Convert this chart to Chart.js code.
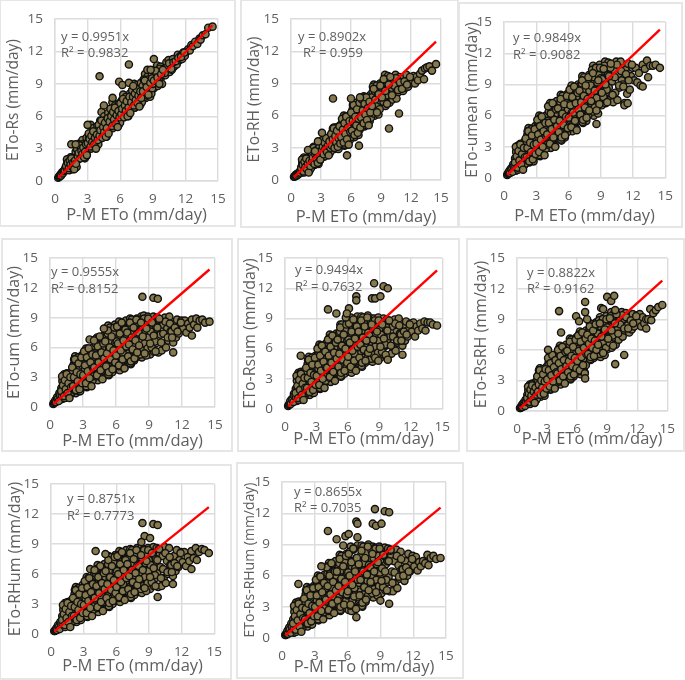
<!DOCTYPE html>
<html>
<head>
<meta charset="utf-8">
<title>ETo scatter panels</title>
<script src="https://cdn.jsdelivr.net/npm/chart.js@4/dist/chart.umd.min.js"></script>
<style>
	body { margin: 0; background: #fff; }
	#page { position: relative; width: 685px; height: 680px; overflow: hidden; }
	.frame { position: absolute; box-sizing: border-box; border: 2px solid #e6e6e6; }
	canvas { position: absolute; left: 0; top: 0; }
</style>
</head>
<body>
<div id="page"></div>
<script>
// P-M ETo, same days in every panel
const pmEto = [
	0.3,0.35,0.4,0.45,0.5,0.6,0.65,0.75,0.85,0.95,
	1.03,1.1,1.16,1.22,1.28,1.35,1.41,1.47,1.53,1.59,1.66,1.72,1.78,1.84,1.9,1.97,
	2.03,2.1,2.16,2.22,2.28,2.35,2.41,2.47,2.53,2.59,2.66,2.72,2.78,2.84,2.9,2.97,
	3.03,3.1,3.16,3.22,3.28,3.35,3.41,3.47,3.53,3.59,3.66,3.72,3.78,3.84,3.9,3.97,
	4.03,4.1,4.16,4.22,4.28,4.35,4.41,4.47,4.53,4.59,4.66,4.72,4.78,4.84,4.9,4.97,
	5.03,5.1,5.16,5.22,5.28,5.35,5.41,5.47,5.53,5.59,5.66,5.72,5.78,5.84,5.9,5.97,
	6.03,6.1,6.16,6.22,6.28,6.35,6.41,6.47,6.53,6.59,6.66,6.72,6.78,6.84,6.9,6.97,
	7.03,7.1,7.16,7.22,7.28,7.35,7.41,7.47,7.53,7.59,7.66,7.72,7.78,7.84,7.9,7.97,
	8.03,8.1,8.16,8.22,8.28,8.35,8.41,8.47,8.53,8.59,8.66,8.72,8.78,8.84,8.9,8.97,
	9.05,9.1,9.2,9.3,9.4,9.45,9.5,9.6,9.7,9.75,9.85,9.95,
	10.05,10.15,10.25,10.35,10.45,10.55,10.65,10.75,10.85,10.95,
	11.05,11.2,11.3,11.45,11.55,11.7,11.8,11.95,
	12.1,12.25,12.4,12.55,12.7,12.9,
	13.1,13.3,13.4,13.6,13.85,
	14.1,14.5
]
const pmEto2 = [
	0.55,0.7,0.8,0.9,
	1.06,1.13,1.19,1.25,1.31,1.38,1.44,1.5,1.56,1.62,1.69,1.75,1.81,1.87,1.94,1.99,
	2.06,2.13,2.19,2.25,2.31,2.38,2.44,2.5,2.56,2.62,2.69,2.75,2.81,2.87,2.94,2.99,
	3.06,3.13,3.19,3.25,3.31,3.38,3.44,3.5,3.56,3.62,3.69,3.75,3.81,3.87,3.94,3.99,
	4.06,4.13,4.19,4.25,4.31,4.38,4.44,4.5,4.56,4.62,4.69,4.75,4.81,4.87,4.94,4.99,
	5.06,5.13,5.19,5.25,5.31,5.38,5.44,5.5,5.56,5.62,5.69,5.75,5.81,5.87,5.94,5.99,
	6.06,6.13,6.19,6.25,6.31,6.38,6.44,6.5,6.56,6.62,6.69,6.75,6.81,6.87,6.94,6.99,
	7.06,7.13,7.19,7.25,7.31,7.38,7.44,7.5,7.56,7.62,7.69,7.75,7.81,7.87,7.94,7.99,
	8.06,8.13,8.19,8.25,8.31,8.38,8.44,8.5,8.56,8.62,8.69,8.75,8.81,8.87,8.94,8.99,
	9.15,9.25,9.35,9.55,9.65,9.9,
	10.1,10.3,10.5,10.7,10.9,
	11.1,11.35,11.6,11.9
]
const pmEto3 = [
	1.02,1.1,1.18,1.27,1.35,1.43,1.52,1.6,1.68,1.77,1.85,1.93,
	2.02,2.1,2.18,2.27,2.35,2.43,2.52,2.6,2.68,2.77,2.85,2.93,
	3.02,3.1,3.18,3.27,3.35,3.43,3.52,3.6,3.68,3.77,3.85,3.93,
	4.02,4.1,4.18,4.27,4.35,4.43,4.52,4.6,4.68,4.77,4.85,4.93,
	5.02,5.1,5.18,5.27,5.35,5.43,5.52,5.6,5.68,5.77,5.85,5.93,
	6.02,6.1,6.18,6.27,6.35,6.43,6.52,6.6,6.68,6.77,6.85,6.93,
	7.02,7.1,7.18,7.27,7.35,7.43,7.52,7.6,7.68,7.77,7.85,7.93,
	8.1,8.27,8.43,8.6,8.77,8.93,
	9.1,9.27,9.43,9.6,9.77,9.93
]

const etoRs = [
	0.3,0.4,0.4,0.5,0.6,0.6,0.8,0.8,1.0,1.2,
	1.0,1.2,1.5,1.1,1.9,1.2,1.4,1.3,2.2,1.5,1.4,1.9,1.6,1.8,2.7,1.9,
	2.1,2.0,2.9,2.2,3.5,2.2,2.6,2.4,3.8,2.6,2.4,3.3,2.6,3.0,4.0,2.9,
	3.6,3.0,4.4,3.3,5.2,3.1,4.1,3.4,4.9,3.9,3.3,4.5,3.7,4.3,5.1,4.0,
	4.7,3.9,5.6,4.3,6.4,4.0,5.2,4.3,6.0,4.9,4.3,5.7,4.8,5.3,6.3,5.0,
	5.6,4.9,6.7,5.3,7.3,5.0,6.2,5.3,7.0,5.8,5.2,6.6,5.7,6.3,7.2,5.9,
	6.5,5.9,7.5,6.3,8.0,5.9,7.1,6.3,7.8,6.7,6.2,7.4,6.6,7.2,8.1,6.9,
	7.6,6.8,8.5,7.2,9.0,6.8,8.1,7.2,8.9,7.7,7.1,8.4,7.5,8.1,9.1,7.8,
	8.5,7.7,9.4,8.1,9.9,7.7,9.0,8.1,9.7,8.6,8.0,9.3,8.4,8.9,10.0,8.7,
	9.5,8.6,10.3,9.0,10.7,8.8,9.8,9.2,10.6,9.6,9.0,10.2,
	10.4,9.8,11.0,10.1,11.2,10.1,10.7,10.3,11.3,10.6,
	11.0,10.8,11.7,11.2,11.6,11.3,11.9,11.6,
	12.0,12.2,12.1,12.6,12.5,12.9,
	12.7,13.2,13.1,13.5,13.6,
	14.2,14.3
]
const etoRs2 = [
	0.5,0.7,0.9,1.0,
	1.2,1.8,1.5,2.0,1.0,1.7,2.2,1.4,1.9,1.1,1.6,2.1,1.5,1.2,1.8,1.3,
	2.9,2.4,3.4,2.1,2.6,3.2,2.2,2.8,3.4,2.5,3.0,2.1,3.2,2.3,2.7,3.1,
	3.2,4.0,3.6,4.2,3.0,3.8,4.4,3.5,4.0,3.2,3.7,4.2,3.6,3.3,4.0,3.4,
	5.0,4.4,5.5,4.1,4.6,5.2,4.3,4.8,5.5,4.6,5.1,4.1,5.3,4.4,4.8,5.2,
	5.1,6.0,5.6,6.3,4.9,5.8,6.5,5.4,6.1,5.1,5.7,6.3,5.6,5.2,6.0,5.4,
	6.9,6.3,7.4,6.0,6.5,7.1,6.2,6.7,7.4,6.5,7.0,6.0,7.2,6.3,6.7,7.1,
	7.1,8.0,7.6,8.2,6.8,7.7,8.5,7.4,8.0,7.0,7.6,8.3,7.5,7.1,8.0,7.3,
	8.8,8.2,9.4,7.8,8.4,9.1,8.0,8.6,9.4,8.3,8.9,7.8,9.2,8.1,8.6,9.0,
	9.4,9.8,10.0,9.5,10.4,10.1,
	10.0,10.5,10.9,10.4,11.0,
	11.1,11.4,11.5,11.9
]
const etoRs3 = [
	1.4,2.0,1.7,1.2,1.9,1.5,2.1,1.3,1.7,1.1,1.9,1.6,
	3.0,2.3,2.6,3.3,2.1,2.8,2.5,3.1,2.2,2.7,3.4,2.4,
	3.5,4.4,3.9,3.2,4.2,3.6,4.6,3.4,4.0,3.0,4.3,3.8,
	5.2,4.2,4.7,5.6,4.0,5.0,4.5,5.4,4.1,4.9,5.8,4.4,
	5.5,6.7,6.0,5.1,6.4,5.7,6.8,5.3,6.1,5.0,6.5,5.9,
	7.2,6.2,6.7,7.6,5.9,7.0,6.5,7.4,6.0,6.8,7.8,6.3,
	7.3,8.4,7.8,7.0,8.1,7.5,8.5,7.2,7.9,6.9,8.3,7.7,
	8.3,9.3,8.7,8.0,9.1,9.5,
	9.3,10.2,9.6,9.0,9.9,10.3
]
const etoRH = [
	0.3,0.3,0.4,0.4,0.5,0.5,0.6,0.6,0.7,0.9,
	1.2,0.7,1.7,1.0,2.1,0.8,1.5,0.9,1.9,1.2,0.9,1.7,1.2,1.5,2.2,1.4,
	2.2,1.5,2.7,1.8,3.1,1.4,2.5,1.8,3.0,2.2,1.7,2.8,2.1,2.6,3.1,2.3,
	3.0,2.3,3.5,2.7,3.9,2.2,3.3,2.6,3.8,3.0,2.4,3.6,2.9,3.4,4.0,3.1,
	3.8,3.0,4.5,3.4,4.9,2.9,4.2,3.3,4.9,3.8,3.2,4.6,3.6,4.4,5.1,4.0,
	4.6,3.4,5.3,4.0,6.0,3.2,5.0,3.8,5.7,4.4,3.5,5.3,4.2,5.0,6.1,4.8,
	5.6,4.3,6.6,5.0,7.2,4.0,6.2,4.7,7.0,5.4,4.6,6.5,5.2,6.2,7.4,5.6,
	6.4,5.2,7.2,5.9,7.8,5.0,6.9,5.6,7.6,6.2,5.4,7.3,5.9,6.8,7.9,6.3,
	7.4,6.2,8.2,6.9,8.9,6.0,7.8,6.6,8.6,7.2,6.4,8.2,6.8,7.7,9.0,7.3,
	8.3,7.0,9.1,7.7,9.8,6.9,8.7,7.4,9.7,8.0,7.2,9.0,
	8.6,7.5,9.3,8.0,9.8,7.6,9.0,8.2,9.6,8.4,
	9.0,8.3,9.6,8.6,9.8,8.7,9.3,9.0,
	9.2,9.7,9.0,9.6,9.3,9.9,
	10.2,9.4,10.4,10.5,10.6,
	10.2,10.8
]
const etoRH2 = [
	0.4,0.5,0.6,0.7,
	0.9,1.6,1.3,1.8,0.7,1.4,2.0,1.1,1.6,0.9,1.4,1.8,1.2,0.9,1.6,1.1,
	2.4,1.8,3.0,1.5,2.1,2.7,1.7,2.3,3.0,2.0,2.5,1.5,2.8,1.8,2.2,2.7,
	2.5,3.4,3.0,3.6,2.2,3.1,3.9,2.8,3.4,2.4,3.0,3.7,2.9,2.5,3.4,2.7,
	4.1,3.4,4.8,3.0,3.7,4.5,3.2,3.9,4.9,3.6,4.3,2.9,4.6,3.3,3.9,4.4,
	3.6,5.2,4.5,5.6,3.3,4.7,5.9,4.1,5.2,3.5,4.6,5.7,4.4,3.7,5.1,4.0,
	6.0,4.8,7.0,4.3,5.3,6.6,4.5,5.7,7.2,5.2,6.2,4.2,6.7,4.7,5.6,6.4,
	5.4,7.0,6.3,7.4,5.1,6.5,7.7,5.9,7.0,5.3,6.4,7.5,6.2,5.5,6.9,5.8,
	7.7,6.7,8.7,6.2,7.2,8.3,6.5,7.5,8.8,7.0,7.9,6.1,8.4,6.6,7.4,8.1,
	8.5,7.3,9.4,7.9,8.9,9.3,
	7.9,8.8,9.5,8.4,9.1,
	8.5,9.2,8.9,9.6
]
const etoRH3 = [
	1.1,1.9,1.4,0.8,1.7,1.2,2.0,1.0,1.5,0.7,1.8,1.3,
	2.6,1.7,2.1,3.0,1.5,2.4,2.0,2.8,1.6,2.3,3.1,1.9,
	2.7,3.7,3.1,2.4,3.5,2.9,3.9,2.6,3.2,2.3,3.6,3.0,
	4.3,3.2,3.8,4.8,3.0,4.1,3.5,4.6,3.1,3.9,5.0,3.4,
	4.0,5.7,4.7,3.5,5.3,4.3,5.9,3.8,4.9,3.3,5.5,4.5,
	6.3,4.6,5.5,7.0,4.2,5.9,5.1,6.6,4.4,5.7,7.2,4.9,
	5.8,7.5,6.5,5.3,7.1,6.1,7.7,5.6,6.7,5.1,7.3,6.3,
	6.9,8.5,7.5,6.3,8.0,8.8,
	7.7,9.4,8.3,7.1,8.9,9.6
]
const etoUmean = [
	0.3,0.4,0.5,0.5,0.7,0.5,0.9,0.7,1.3,0.9,
	1.9,0.7,2.8,1.2,3.1,0.9,2.4,1.2,3.3,1.7,1.0,2.9,1.4,2.5,3.5,1.9,
	3.1,1.5,4.1,2.2,4.8,1.5,3.6,2.0,4.7,2.7,1.7,4.2,2.4,3.7,5.0,3.0,
	4.0,2.3,5.1,3.0,6.0,2.1,4.7,2.8,5.7,3.6,2.5,5.2,3.2,4.6,6.0,3.8,
	5.0,3.1,6.4,3.9,7.2,2.9,5.8,3.6,7.0,4.6,3.2,6.3,4.1,5.6,7.4,4.7,
	5.8,3.9,7.1,4.8,8.0,3.6,6.5,4.5,7.7,5.4,3.9,7.0,4.8,6.4,8.1,5.3,
	6.7,5.0,8.0,5.8,8.9,4.5,7.4,5.3,8.6,6.2,4.8,7.9,5.6,7.2,9.0,6.1,
	7.6,5.6,9.0,6.6,9.8,5.3,8.3,6.2,9.5,7.1,5.5,8.8,6.4,8.1,9.9,7.0,
	8.5,6.3,9.9,7.4,10.8,6.0,9.2,7.0,10.6,8.0,6.3,9.7,7.3,8.9,10.9,7.8,
	9.0,7.0,10.3,7.9,11.2,7.2,9.7,8.3,11.1,8.7,7.5,10.5,
	9.3,7.3,10.4,8.2,11.2,7.5,10.0,8.7,11.2,9.4,
	9.0,7.2,10.4,8.1,11.0,8.5,9.8,10.6,
	9.4,10.6,9.2,10.1,8.9,10.9,
	10.5,11.3,9.7,10.8,10.8,
	10.9,10.6
]
const etoUmean2 = [
	0.5,0.8,0.6,1.1,
	1.1,2.5,1.9,2.9,0.8,2.1,3.2,1.6,2.6,1.0,2.0,3.0,1.8,1.2,2.5,1.4,
	3.4,2.3,4.5,1.7,2.8,4.1,1.9,3.2,4.7,2.6,3.6,1.6,4.2,2.1,3.0,3.9,
	2.7,4.8,3.9,5.4,2.2,4.2,5.9,3.4,4.9,2.6,4.0,5.5,3.7,2.8,4.8,3.2,
	5.5,4.0,6.9,3.3,4.7,6.3,3.6,5.2,7.1,4.4,5.8,3.1,6.5,3.9,5.0,6.2,
	4.3,6.7,5.6,7.3,3.7,6.0,7.9,5.1,6.8,4.1,5.8,7.5,5.4,4.4,6.6,4.8,
	7.1,5.6,8.5,4.9,6.3,7.9,5.2,6.8,8.7,6.0,7.4,4.7,8.1,5.5,6.6,7.8,
	6.0,8.5,7.3,9.1,5.4,7.8,9.7,6.8,8.5,5.8,7.6,9.3,7.2,6.1,8.4,6.6,
	8.9,7.2,10.4,6.4,7.9,9.7,6.8,8.5,10.6,7.7,9.2,6.2,9.9,7.1,8.3,9.6,
	9.5,7.8,10.8,8.5,9.9,10.6,
	8.0,9.7,10.9,8.9,10.3,
	8.8,10.0,9.4,10.9
]
const etoUmean3 = [
	1.5,3.0,2.1,1.0,2.6,1.7,3.2,1.3,2.3,0.8,2.9,2.0,
	3.8,2.0,2.9,4.5,1.6,3.4,2.5,4.1,1.8,3.2,4.7,2.3,
	3.3,5.6,4.2,2.5,5.0,3.7,5.9,3.0,4.5,2.2,5.3,4.0,
	4.2,6.9,5.3,3.3,6.2,4.7,7.2,3.9,5.6,3.0,6.6,5.0,
	6.7,4.4,5.5,7.6,3.9,6.2,5.1,7.1,4.1,5.9,7.9,4.8,
	5.8,8.5,7.0,4.9,7.8,6.3,8.8,5.5,7.2,4.6,8.2,6.6,
	8.4,6.1,7.3,9.4,5.6,7.9,6.8,8.9,5.8,7.6,9.7,6.5,
	7.4,10.1,8.4,6.5,9.4,10.6,
	8.2,10.5,9.0,7.3,9.8,11.0
]
const etoUm = [
	0.3,0.4,0.5,0.5,0.7,0.6,1.0,0.7,1.4,1.0,
	1.9,0.8,2.8,1.2,3.3,0.9,2.3,1.2,3.4,1.6,1.0,2.9,1.4,2.5,3.5,1.9,
	3.2,1.5,4.3,2.2,5.1,1.4,3.8,2.0,4.9,2.7,1.6,4.2,2.4,3.7,5.2,3.0,
	4.0,2.1,5.2,2.9,5.9,2.0,4.6,2.6,5.6,3.4,2.3,5.0,3.1,4.4,6.0,3.7,
	4.9,2.8,6.4,3.7,7.0,2.7,5.7,3.4,6.9,4.4,3.0,6.2,3.9,5.4,7.2,4.6,
	5.6,3.4,7.2,4.4,8.2,3.2,6.5,4.1,7.8,5.1,3.5,6.9,4.6,6.2,8.3,5.2,
	6.1,3.8,7.6,4.8,8.6,3.7,7.0,4.6,8.3,5.6,4.1,7.4,5.0,6.7,8.7,5.5,
	6.6,4.5,8.2,5.5,8.9,4.3,7.4,5.1,8.6,6.1,4.7,7.8,5.6,7.1,8.9,6.2,
	7.0,5.1,8.3,6.0,9.1,5.0,7.7,5.7,9.2,6.5,5.3,8.1,6.2,7.4,9.1,6.7,
	7.2,5.3,8.3,6.1,9.1,5.6,7.8,6.4,9.0,6.9,5.5,8.5,
	7.3,5.7,8.3,6.3,9.0,6.0,7.9,6.7,9.1,7.6,
	7.6,6.5,8.4,7.0,8.8,7.4,8.1,8.7,
	7.9,8.7,7.5,8.4,8.0,8.8,
	8.3,8.9,8.0,8.7,8.8,
	8.5,8.6
]
const etoUm2 = [
	0.5,0.8,0.6,1.2,
	1.2,2.6,2.0,3.0,0.9,2.2,3.3,1.7,2.7,1.1,2.1,3.1,1.9,1.3,2.6,1.5,
	3.6,2.3,4.8,1.7,2.9,4.3,2.0,3.3,5.0,2.7,3.8,1.6,4.4,2.2,3.2,4.1,
	2.6,4.8,3.8,5.4,2.1,4.2,5.9,3.3,4.9,2.5,4.0,5.5,3.7,2.7,4.7,3.1,
	5.4,3.8,6.8,3.1,4.5,6.2,3.4,5.0,7.0,4.3,5.7,2.9,6.4,3.7,4.9,6.0,
	3.9,6.6,5.4,7.4,3.3,5.9,8.0,4.8,6.7,3.8,5.7,7.5,5.3,4.1,6.5,4.6,
	6.6,4.9,8.2,4.1,5.7,7.5,4.5,6.2,8.4,5.4,6.9,3.9,7.7,4.8,6.1,7.3,
	5.0,7.5,6.4,8.2,4.4,6.8,8.8,5.8,7.6,4.9,6.6,8.4,6.2,5.1,7.4,5.6,
	7.5,6.0,8.8,5.3,6.6,8.2,5.7,7.1,8.9,6.4,7.7,5.2,8.4,5.9,7.0,8.0,
	7.6,6.0,8.6,6.6,8.1,8.8,
	6.5,7.4,8.6,7.0,8.4,
	7.0,8.0,7.6,8.5
]
const etoUm3 = [
	1.6,3.1,2.2,1.1,2.7,1.8,3.3,1.4,2.4,0.9,3.0,2.0,
	4.0,2.1,3.0,4.8,1.7,3.5,2.6,4.4,1.8,3.3,5.0,2.4,
	3.2,5.6,4.2,2.4,5.0,3.6,5.9,2.9,4.5,2.1,5.3,3.9,
	4.0,6.8,5.2,3.2,6.1,4.5,7.1,3.7,5.5,2.8,6.4,4.9,
	6.6,4.1,5.4,7.7,3.5,6.0,4.8,7.1,3.8,5.7,8.0,4.5,
	5.2,8.1,6.4,4.2,7.4,5.7,8.5,4.8,6.7,3.9,7.8,6.1,
	7.5,5.1,6.3,8.5,4.6,7.0,5.8,8.0,4.9,6.7,8.8,5.5,
	6.2,8.5,7.1,5.4,7.9,8.9,
	6.4,8.5,7.2,5.6,8.0,8.9
]
const etoRsum = [
	0.3,0.4,0.5,0.5,0.8,0.6,1.0,0.7,1.5,1.0,
	2.0,0.8,3.0,1.3,3.6,0.9,2.5,1.2,3.7,1.7,1.0,3.1,1.5,2.7,3.8,2.0,
	3.3,1.5,4.5,2.2,5.2,1.4,3.9,2.0,5.1,2.8,1.6,4.4,2.4,3.8,5.3,3.1,
	4.2,2.1,5.5,3.0,6.4,2.0,4.9,2.7,6.0,3.6,2.3,5.3,3.2,4.7,6.5,3.9,
	5.0,2.8,6.5,3.8,7.4,2.7,5.8,3.4,7.2,4.5,3.0,6.3,4.0,5.6,7.5,4.7,
	5.8,3.3,7.5,4.5,8.4,3.2,6.7,4.2,8.2,5.3,3.5,7.2,4.7,6.4,8.6,5.4,
	6.3,3.7,8.0,5.0,9.1,3.6,7.2,4.7,8.8,5.8,4.0,7.8,5.1,6.9,9.2,5.6,
	6.7,4.4,8.5,5.5,9.2,4.2,7.5,5.1,9.1,6.2,4.6,8.1,5.7,7.2,9.3,6.3,
	6.9,4.8,8.2,5.7,9.0,4.7,7.6,5.4,9.0,6.4,5.0,8.1,6.0,7.3,9.1,6.6,
	7.1,5.1,8.3,6.0,9.0,5.4,7.7,6.3,8.9,6.8,5.3,8.4,
	7.2,5.5,8.2,6.2,8.9,5.8,7.7,6.6,9.0,7.5,
	7.4,6.3,8.2,6.8,8.7,7.2,7.9,8.5,
	7.7,8.6,7.2,8.2,7.8,8.5,
	8.0,8.7,7.8,8.6,8.6,
	8.4,8.3
]
const etoRsum2 = [
	0.5,0.9,0.7,1.3,
	1.2,2.8,2.1,3.2,0.9,2.3,3.5,1.7,2.8,1.1,2.2,3.3,2.0,1.3,2.7,1.6,
	3.7,2.3,4.9,1.7,3.0,4.4,2.0,3.4,5.1,2.7,3.9,1.6,4.5,2.2,3.2,4.2,
	2.7,5.1,4.0,5.7,2.1,4.4,6.3,3.5,5.2,2.5,4.2,5.9,3.8,2.8,5.0,3.2,
	5.5,3.9,7.0,3.1,4.6,6.4,3.5,5.1,7.2,4.3,5.8,2.9,6.6,3.7,5.0,6.2,
	4.0,6.9,5.6,7.7,3.3,6.1,8.4,5.0,7.0,3.8,5.9,7.9,5.4,4.2,6.8,4.7,
	6.9,5.0,8.7,4.0,5.8,7.9,4.5,6.5,8.9,5.5,7.2,3.9,8.1,4.8,6.2,7.7,
	5.0,7.7,6.5,8.5,4.3,7.0,9.1,5.9,7.8,4.8,6.7,8.6,6.3,5.1,7.6,5.6,
	7.3,5.8,8.7,5.0,6.4,8.1,5.4,6.9,8.8,6.2,7.5,4.9,8.2,5.6,6.8,7.9,
	7.4,5.7,8.6,6.4,8.1,8.8,
	6.3,7.2,8.5,6.8,8.3,
	6.8,7.7,7.4,8.4
]
const etoRsum3 = [
	1.6,3.3,2.3,1.1,2.9,1.9,3.5,1.4,2.5,0.9,3.1,2.1,
	4.1,2.1,3.1,4.9,1.7,3.6,2.7,4.4,1.9,3.4,5.1,2.4,
	3.3,6.0,4.4,2.4,5.3,3.8,6.3,3.0,4.7,2.1,5.7,4.1,
	4.1,6.9,5.3,3.2,6.2,4.6,7.3,3.7,5.6,2.8,6.6,5.0,
	6.9,4.2,5.5,8.1,3.6,6.3,4.9,7.4,3.8,6.0,8.4,4.6,
	5.2,8.5,6.6,4.2,7.7,5.8,8.9,4.8,7.0,3.8,8.2,6.2,
	7.7,5.1,6.4,8.8,4.6,7.1,5.9,8.2,4.8,6.8,9.1,5.6,
	6.0,8.4,6.9,5.1,7.7,8.8,
	6.2,8.4,7.0,5.4,7.8,8.8
]
const etoRsRH = [
	0.3,0.3,0.4,0.4,0.6,0.5,0.8,0.6,1.1,0.8,
	1.6,0.7,2.2,1.0,2.6,0.8,2.0,1.1,2.7,1.4,0.9,2.3,1.2,1.9,2.9,1.5,
	2.8,1.5,3.6,2.0,4.2,1.4,3.2,1.9,4.1,2.5,1.6,3.6,2.2,3.1,4.3,2.6,
	3.7,2.2,4.8,2.8,5.5,2.1,4.2,2.5,5.3,3.3,2.3,4.7,3.0,4.1,5.6,3.5,
	4.4,2.7,5.6,3.4,6.4,2.6,5.1,3.1,6.2,3.9,2.9,5.4,3.6,4.9,6.5,4.2,
	5.0,3.2,6.3,4.0,7.1,3.1,5.7,3.7,6.9,4.6,3.4,6.1,4.2,5.5,7.2,4.8,
	5.7,3.7,7.0,4.6,7.8,3.6,6.4,4.3,7.7,5.2,4.0,6.8,4.8,6.2,7.9,5.4,
	6.7,5.1,7.8,5.7,8.6,5.0,7.2,5.4,8.4,6.3,5.2,7.7,5.9,7.0,8.7,6.4,
	7.2,5.4,8.3,6.2,9.2,5.3,7.8,5.9,9.0,6.8,5.6,8.2,6.4,7.6,9.3,6.9,
	8.0,6.1,8.9,6.9,9.7,6.2,8.5,7.2,9.6,7.7,6.5,9.0,
	8.2,7.0,9.0,7.5,9.7,7.3,8.7,7.9,9.6,8.4,
	8.4,7.7,9.1,8.0,9.5,8.3,8.8,9.4,
	8.7,9.5,8.3,9.2,8.6,9.0,
	9.0,10.0,8.9,9.6,9.9,
	10.2,10.4
]
const etoRsRH2 = [
	0.4,0.6,0.5,0.9,
	1.0,2.0,1.6,2.3,0.7,1.7,2.6,1.3,2.1,0.9,1.7,2.4,1.5,1.0,2.0,1.2,
	3.1,2.1,4.0,1.6,2.5,3.6,1.8,2.9,4.1,2.4,3.2,1.5,3.7,2.0,2.7,3.5,
	2.6,4.5,3.7,5.1,2.2,4.0,5.5,3.3,4.6,2.5,3.9,5.2,3.6,2.7,4.5,3.1,
	4.9,3.6,6.1,2.9,4.1,5.6,3.2,4.6,6.2,3.9,5.1,2.8,5.7,3.4,4.4,5.4,
	3.7,5.9,4.9,6.5,3.2,5.3,7.0,4.4,6.0,3.6,5.1,6.6,4.8,3.8,5.8,4.2,
	6.1,4.6,7.5,3.9,5.3,6.9,4.3,5.8,7.6,5.1,6.4,3.8,7.0,4.5,5.6,6.7,
	5.5,7.5,6.6,8.1,5.1,7.0,8.5,6.2,7.6,5.4,6.8,8.2,6.5,5.6,7.4,6.0,
	7.6,6.3,8.9,5.6,6.9,8.3,5.9,7.3,9.0,6.7,7.9,5.5,8.5,6.2,7.2,8.2,
	7.9,6.7,9.3,7.4,8.8,9.5,
	7.6,8.5,9.4,8.1,9.2,
	8.1,8.9,8.6,9.3
]
const etoRsRH3 = [
	1.3,2.4,1.7,0.9,2.1,1.5,2.5,1.1,1.9,0.8,2.3,1.6,
	3.4,1.9,2.6,4.0,1.6,3.0,2.3,3.6,1.7,2.9,4.1,2.2,
	3.1,5.2,4.0,2.4,4.7,3.5,5.5,2.9,4.3,2.2,5.0,3.8,
	3.7,6.0,4.7,3.0,5.4,4.1,6.3,3.4,5.0,2.7,5.8,4.4,
	5.9,3.8,4.9,6.8,3.4,5.4,4.4,6.3,3.6,5.2,7.0,4.2,
	4.9,7.4,5.9,4.0,6.8,5.3,7.7,4.5,6.2,3.7,7.1,5.6,
	7.5,5.6,6.6,8.3,5.3,7.1,6.2,7.9,5.4,6.9,8.5,6.0,
	6.5,8.6,7.3,5.7,8.0,9.0,
	7.1,9.1,7.9,6.4,8.6,9.5
]
const etoRHum = [
	0.3,0.3,0.4,0.4,0.6,0.5,0.9,0.6,1.2,0.8,
	1.8,0.7,2.6,1.1,3.1,0.8,2.2,1.0,3.2,1.5,0.9,2.7,1.3,2.4,3.4,1.7,
	2.9,1.3,4.0,1.9,4.7,1.2,3.5,1.7,4.6,2.5,1.4,3.9,2.1,3.3,4.9,2.7,
	3.7,1.8,4.9,2.6,5.7,1.7,4.3,2.3,5.4,3.1,1.9,4.8,2.8,4.1,5.8,3.4,
	4.5,2.3,6.0,3.2,6.9,2.2,5.3,2.9,6.7,3.9,2.5,5.7,3.4,5.1,7.0,4.1,
	5.2,2.9,6.8,3.8,7.8,2.7,6.1,3.5,7.5,4.6,3.0,6.6,4.1,5.8,7.9,4.8,
	5.7,3.3,7.4,4.4,8.3,3.2,6.6,4.1,8.1,5.2,3.6,7.2,4.6,6.4,8.4,5.3,
	6.0,3.7,7.6,4.7,8.5,3.6,6.9,4.4,8.3,5.4,3.9,7.4,4.9,6.6,8.6,5.5,
	6.3,4.2,7.7,5.1,8.6,4.1,7.0,4.8,8.5,5.7,4.4,7.6,5.3,6.8,8.6,5.9,
	6.5,4.5,7.8,5.3,8.7,4.8,7.2,5.6,8.6,6.1,4.7,8.0,
	6.7,4.8,7.8,5.6,8.7,5.1,7.3,6.0,8.6,6.9,
	6.9,5.8,7.8,6.3,8.4,6.7,7.4,8.2,
	7.2,8.2,6.8,7.7,7.3,8.3,
	7.6,8.6,7.4,8.2,8.5,
	8.4,8.1
]
const etoRHum2 = [
	0.4,0.7,0.5,1.0,
	1.0,2.4,1.8,2.8,0.7,2.0,3.1,1.5,2.5,0.9,1.9,2.9,1.7,1.1,2.4,1.3,
	3.3,2.1,4.4,1.5,2.6,3.9,1.8,3.0,4.6,2.4,3.5,1.4,4.1,2.0,2.9,3.8,
	2.3,4.5,3.5,5.1,1.8,3.9,5.6,3.0,4.6,2.2,3.7,5.2,3.4,2.4,4.4,2.8,
	5.0,3.4,6.5,2.6,4.1,5.9,3.0,4.6,6.7,3.8,5.3,2.4,6.1,3.2,4.5,5.7,
	3.5,6.3,5.0,7.0,2.8,5.5,7.7,4.4,6.4,3.3,5.3,7.2,4.8,3.6,6.2,4.1,
	6.3,4.5,7.9,3.6,5.2,7.2,4.0,5.9,8.1,5.0,6.6,3.5,7.4,4.3,5.6,7.0,
	4.3,7.0,5.8,7.8,3.7,6.3,8.4,5.2,7.1,4.2,6.1,7.9,5.7,4.5,6.9,5.0,
	6.8,5.2,8.2,4.5,5.9,7.6,4.8,6.4,8.4,5.7,7.1,4.3,7.8,5.1,6.3,7.4,
	6.9,5.2,8.1,5.9,7.5,8.5,
	5.6,6.5,8.1,6.2,7.7,
	6.2,7.1,6.8,8.1
]
const etoRHum3 = [
	1.4,2.9,2.0,0.9,2.5,1.6,3.1,1.2,2.2,0.7,2.8,1.8,
	3.6,1.8,2.7,4.4,1.4,3.2,2.4,4.0,1.6,3.0,4.6,2.1,
	2.9,5.3,3.9,2.1,4.7,3.3,5.6,2.6,4.2,1.8,5.0,3.6,
	3.6,6.4,4.8,2.7,5.7,4.1,6.8,3.2,5.1,2.3,6.1,4.5,
	6.3,3.6,5.0,7.4,3.1,5.7,4.4,6.8,3.3,5.4,7.7,4.1,
	4.7,7.8,6.0,3.7,7.0,5.2,8.2,4.3,6.4,3.4,7.4,5.6,
	7.0,4.5,5.8,8.1,4.0,6.4,5.2,7.5,4.2,6.1,8.4,4.9,
	5.5,7.9,6.4,4.6,7.3,8.4,
	5.7,8.1,6.6,4.8,7.4,8.5
]
const etoRsRHum = [
	0.3,0.3,0.4,0.5,0.7,0.5,1.0,0.6,1.4,0.8,
	1.8,0.5,2.8,1.0,3.4,0.7,2.3,1.0,3.5,1.5,0.8,2.9,1.3,2.5,3.6,1.7,
	3.0,1.2,4.2,1.9,4.9,1.1,3.6,1.7,4.8,2.5,1.3,4.1,2.1,3.4,5.0,2.7,
	3.8,1.8,5.1,2.6,6.0,1.7,4.5,2.3,5.8,3.2,2.0,5.0,2.8,4.3,6.1,3.5,
	4.7,2.3,6.2,3.3,7.2,2.2,5.5,3.0,7.0,4.0,2.5,6.0,3.5,5.3,7.4,4.3,
	5.3,2.7,7.0,3.9,8.0,2.6,6.2,3.5,7.8,4.7,2.9,6.8,4.2,5.9,8.1,4.9,
	5.8,2.7,7.5,4.1,8.8,2.6,6.8,3.6,8.5,5.0,3.2,7.3,4.4,6.5,8.9,5.3,
	6.1,3.1,7.7,4.5,8.9,3.0,7.0,4.2,8.6,5.4,3.5,7.5,4.9,6.7,9.0,5.6,
	6.3,4.0,7.7,5.0,8.8,3.9,7.1,4.6,8.7,5.6,4.2,7.5,5.1,6.8,8.8,5.8,
	6.4,4.3,7.7,5.1,8.7,4.6,7.1,5.4,8.6,5.9,4.5,7.9,
	6.4,4.5,7.4,5.3,8.5,4.8,7.0,5.7,8.3,6.6,
	6.6,5.5,7.4,6.0,8.1,6.4,7.1,7.9,
	6.9,7.8,6.5,7.3,6.9,7.4,
	7.2,8.0,7.0,7.7,7.9,
	7.6,7.7
]
const etoRsRHum2 = [
	0.4,0.8,0.5,1.1,
	0.9,2.5,1.8,3.0,0.6,2.1,3.3,1.5,2.6,0.8,1.9,3.1,1.7,1.0,2.5,1.3,
	3.4,2.1,4.6,1.4,2.6,4.1,1.7,3.1,4.7,2.4,3.6,1.3,4.2,1.9,2.9,3.9,
	2.3,4.7,3.6,5.4,1.8,4.1,5.9,3.1,4.8,2.2,3.9,5.5,3.5,2.5,4.6,2.9,
	5.3,3.5,6.9,2.6,4.2,6.2,3.0,4.9,7.1,4.0,5.6,2.5,6.4,3.3,4.6,6.0,
	3.4,6.4,5.0,7.2,2.7,5.6,7.9,4.4,6.5,3.2,5.3,7.4,4.9,3.6,6.3,4.1,
	6.3,4.2,8.3,3.1,5.1,7.4,3.6,5.8,8.6,4.8,6.7,2.9,7.7,4.0,5.6,7.2,
	3.9,7.1,5.7,8.0,3.1,6.2,8.8,4.9,7.2,3.7,6.0,8.2,5.5,4.1,7.0,4.7,
	6.8,5.1,8.4,4.3,5.9,7.7,4.7,6.4,8.6,5.6,7.1,4.1,7.9,5.0,6.3,7.5,
	6.7,4.9,7.9,5.6,7.4,8.4,
	5.3,6.3,7.9,5.9,7.6,
	6.0,6.8,6.4,7.6
]
const etoRsRHum3 = [
	1.4,3.1,2.1,0.8,2.7,1.7,3.3,1.1,2.3,0.6,2.9,1.9,
	3.8,1.8,2.8,4.6,1.4,3.3,2.4,4.1,1.6,3.1,4.8,2.1,
	3.0,5.6,4.1,2.1,4.9,3.4,5.9,2.6,4.4,1.8,5.3,3.8,
	3.7,6.8,5.0,2.7,6.0,4.2,7.2,3.3,5.4,2.4,6.4,4.6,
	6.4,3.6,5.0,7.6,3.0,5.7,4.4,6.9,3.2,5.4,7.9,4.2,
	4.5,8.1,6.0,3.2,7.3,5.1,8.6,4.0,6.4,2.8,7.7,5.6,
	7.1,4.1,5.6,8.4,3.4,6.4,4.9,7.7,3.7,6.1,8.8,4.6,
	5.4,8.1,6.4,4.4,7.3,8.6,
	5.5,8.0,6.4,4.6,7.4,8.5
]

// points that sit away from the cloud, read one by one
const offRs = [[4.1,9.7],[5.9,9.2],[6.2,8.9],[6.8,10.8],[6.8,9.1],[7.2,8.8],[8.5,10.3],[8.8,10.3],[9.1,11.3],[5.3,7.7],[4.5,7],[1.5,3.4],[1.9,3.4],[3,5.2]]
const offRH = [[4.2,7.6],[6,7.6],[3.1,4.4],[9.8,4.8],[10.8,6.2],[5.6,2.3],[6.8,3.2],[6.9,7.7],[1.7,2.8],[2.7,3.6],[2.4,2.7]]
const offUmean = [[12.9,8.8],[8.6,5.2],[11.2,7],[11.5,7.2]]
const offUm = [[8.4,11.1],[9.4,11],[9.8,10.9],[3.6,6.8],[4,6.7],[4.9,7.9],[12.9,7.2],[11.2,5.5]]
const offRsum = [[4.1,9.9],[4.9,9.5],[5.8,9.1],[6.1,10],[5.9,9.5],[6.8,11.2],[6.8,10.8],[8.3,11],[8.6,11],[8.5,12.5],[9.4,12.2],[9.8,12],[9.1,11.2],[1.5,5.3],[8.9,4.8],[9.8,4.9],[11.2,5.4]]
const offRsRH = [[4.2,9.8],[5.9,9.3],[6.2,8.8],[6.8,10.7],[6.8,9.7],[7,9],[8.4,10.1],[8.6,10],[9,11.2],[9.4,10.8],[9.7,11.3],[9.8,9.9],[3.1,6],[4.4,7.7],[9.8,4.6],[10.7,5.5],[6.8,3.2],[12.9,8.1]]
const offRHum = [[8.4,11.1],[9.4,11],[9.8,10.9],[8.6,9.8],[9.1,9.6],[8.3,9.2],[4.1,8.3],[5,8],[3.6,6.5],[4,6.4],[9.8,3.7],[12.9,6.5],[11.2,5]]
const offRsRHum = [[4.2,10.3],[5,9.5],[5.8,9.8],[6.1,10],[5.6,8.9],[6.8,11.2],[6.9,11],[6.9,9.7],[8.3,11],[8.6,10.8],[9.1,11],[8.5,12.4],[9.4,12.2],[9.8,12.1],[1.5,5.2],[3.6,6.9],[9.8,3.3],[9,3.6],[6.8,2]]

// regression line ends
const fitX = [0.3, 14.5]
const fitRs = [0.3, 14.43]
const fitRH = [0.27, 12.91]
const fitUmean = [0.3, 14.28]
const fitUm = [0.29, 13.85]
const fitRsum = [0.28, 13.77]
const fitRsRH = [0.26, 12.79]
const fitRHum = [0.26, 12.69]
const fitRsRHum = [0.26, 12.55]

const tickValues = [0, 3, 6, 9, 12, 15]
const xTitle = 'P-M ETo (mm/day)'
const fontName = '"Open Sans", sans-serif'
const textColor = '#5f5f5f'

// box = frame x,y,w,h   plot = left,top,right,bottom   yT/xT = centre of axis titles   eq = text anchors
const panels = [
	{ title: 'ETo-Rs (mm/day)', ys: [etoRs, etoRs2, etoRs3], off: offRs, fit: fitRs, eq1: 'y = 0.9951x', eq2: 'R² = 0.9832', box: [-1,-1,237,228], plot: [55,10,218,181], yT: 14, xT: 215, eq: [61,37,61,53], ySize: 15.5 },
	{ title: 'ETo-RH (mm/day)', ys: [etoRH, etoRH2, etoRH3], off: offRH, fit: fitRH, eq1: 'y = 0.8902x', eq2: 'R² = 0.959', box: [240,-1,219,229], plot: [291,11,441,180], yT: 255, xT: 217, eq: [298,37,303,53], ySize: 15.5 },
	{ title: 'ETo-umean (mm/day)', ys: [etoUmean, etoUmean2, etoUmean3], off: offUmean, fit: fitUmean, eq1: 'y = 0.9849x', eq2: 'R² = 0.9082', box: [458,2,225,226], plot: [504,13,666,178], yT: 473, xT: 216, eq: [513,38,513,55], ySize: 15.5 },
	{ title: 'ETo-um (mm/day)', ys: [etoUm, etoUm2, etoUm3], off: offUm, fit: fitUm, eq1: 'y = 0.9555x', eq2: 'R² = 0.8152', box: [1,238,232,214], plot: [50,249,215,407], yT: 14, xT: 441, eq: [51,272,51,289], ySize: 16 },
	{ title: 'ETo-Rsum (mm/day)', ys: [etoRsum, etoRsum2, etoRsum3], off: offRsum, fit: fitRsum, eq1: 'y = 0.9494x', eq2: 'R² = 0.7632', box: [237,238,223,214], plot: [285,248,447,409], yT: 250, xT: 439, eq: [295,270,295,287], ySize: 16 },
	{ title: 'ETo-RsRH (mm/day)', ys: [etoRsRH, etoRsRH2, etoRsRH3], off: offRsRH, fit: fitRsRH, eq1: 'y = 0.8822x', eq2: 'R² = 0.9162', box: [466,238,219,214], plot: [517,248,668,411], yT: 481, xT: 439, eq: [527,273,527,289], ySize: 16 },
	{ title: 'ETo-RHum (mm/day)', ys: [etoRHum, etoRHum2, etoRHum3], off: offRHum, fit: fitRHum, eq1: 'y = 0.8751x', eq2: 'R² = 0.7773', box: [-1,464,233,216], plot: [51,475,215,634], yT: 15, xT: 666, eq: [67,499,67,516], ySize: 16 },
	{ title: 'ETo-Rs-RHum (mm/day)', ys: [etoRsRHum, etoRsRHum2, etoRsRHum3], off: offRsRHum, fit: fitRsRHum, eq1: 'y = 0.8655x', eq2: 'R² = 0.7035', box: [236,462,228,217], plot: [282,472,446,638], yT: 250, xT: 667, eq: [294,492,294,508], ySize: 14 }
]

const fitText = {
	id: 'fitText',
	afterDatasetsDraw(chart, args, opts) {
		const c = chart.ctx
		c.save()
		c.font = '13px ' + fontName
		c.fillStyle = textColor
		c.textBaseline = 'middle'
		c.fillText(opts.eq1, opts.at[0], opts.at[1])
		c.fillText(opts.eq2, opts.at[2], opts.at[3])
		c.restore()
	}
}

const page = document.getElementById('page')

panels.forEach(p => {
	const [bx, by, bw, bh] = p.box
	const [pl, pt, pr, pb] = p.plot
	const frame = document.createElement('div')
	frame.className = 'frame'
	frame.style.cssText = `left:${bx}px;top:${by}px;width:${bw}px;height:${bh}px`
	page.appendChild(frame)

	const canvas = document.createElement('canvas')
	canvas.width = bw
	canvas.height = bh
	canvas.style.left = bx + 'px'
	canvas.style.top = by + 'px'
	page.appendChild(canvas)

	const points = []
	;[pmEto, pmEto2, pmEto3].forEach((xs, k) => {
		xs.forEach((x, i) => points.push({ x: x, y: p.ys[k][i] }))
	})
	p.off.forEach(o => points.push({ x: o[0], y: o[1] }))

	const xSize = 16.5

	new Chart(canvas.getContext('2d'), {
		type: 'scatter',
		plugins: [fitText],
		data: {
			datasets: [
				{
					data: points,
					order: 2,
					pointRadius: 3.6,
					pointBorderWidth: 1.4,
					pointBackgroundColor: '#85794d',
					pointBorderColor: '#111',
					clip: false,
				},
				{
					data: fitX.map((x, i) => ({ x: x, y: p.fit[i] })),
					order: 1,
					showLine: true,
					pointRadius: 0,
					borderColor: '#ff0000',
					borderWidth: 2.4,
					clip: false,
				},
			],
		},
		options: {
			responsive: false,
			animation: false,
			layout: {
				autoPadding: false,
				padding: { left: 0, top: pt - by, right: bx + bw - pr, bottom: 0 },
			},
			plugins: {
				legend: { display: false },
				tooltip: { enabled: false },
				fitText: { eq1: p.eq1, eq2: p.eq2, at: [p.eq[0] - bx, p.eq[1] - by, p.eq[2] - bx, p.eq[3] - by] },
			},
			scales: {
				x: {
					type: 'linear',
					min: 0,
					max: 15,
					afterFit: s => { s.height = by + bh - pb },
					afterBuildTicks: s => { s.ticks = tickValues.map(v => ({ value: v })) },
					grid: { color: '#dcdcdc', lineWidth: 1.4, drawTicks: false },
					border: { color: '#dcdcdc', width: 1.4 },
					ticks: { color: textColor, font: { family: fontName, size: 13.5 }, padding: 10, maxRotation: 0, autoSkip: false },
					title: { display: true, text: xTitle, color: textColor, font: { family: fontName, size: xSize }, padding: { top: 0, bottom: by + bh - p.xT - xSize * 0.6 } },
				},
				y: {
					type: 'linear',
					min: 0,
					max: 15,
					afterFit: s => { s.width = pl - bx },
					afterBuildTicks: s => { s.ticks = tickValues.map(v => ({ value: v })) },
					grid: { color: '#dcdcdc', lineWidth: 1.4, drawTicks: false },
					border: { color: '#dcdcdc', width: 1.4 },
					ticks: { color: textColor, font: { family: fontName, size: 13.5 }, padding: 12, autoSkip: false },
					title: { display: true, text: p.title, color: textColor, font: { family: fontName, size: p.ySize }, padding: { top: p.yT - bx - p.ySize * 0.6, bottom: 0 } },
				},
			},
		},
	})
})
</script>
</body>
</html>
